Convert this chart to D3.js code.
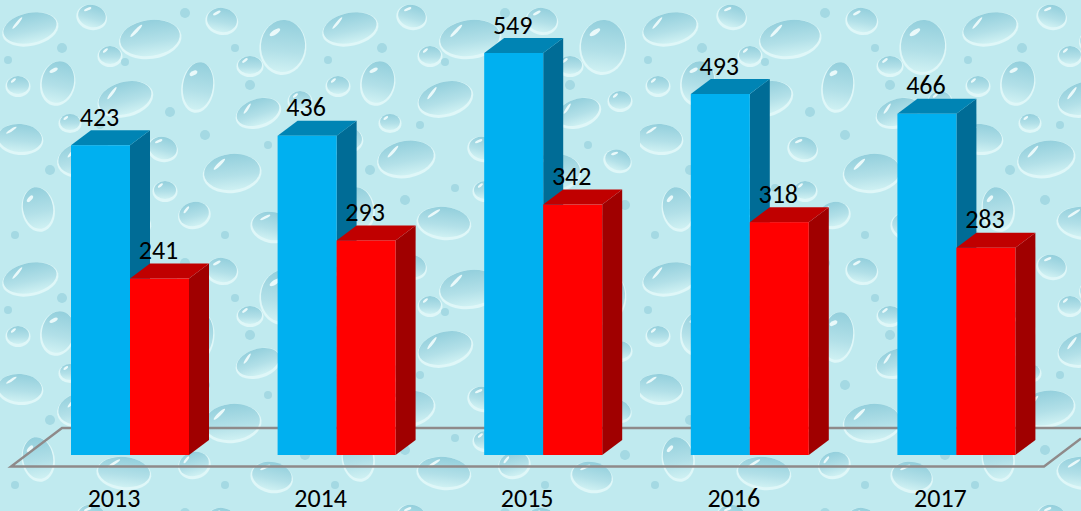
<!DOCTYPE html>
<html><head><meta charset="utf-8">
<style>html,body{margin:0;padding:0;background:#bfe9ee;overflow:hidden}svg{display:block}text{font-family:Carlito,"Liberation Sans","Open Sans",sans-serif}</style>
<script src="https://cdn.jsdelivr.net/npm/d3@7/dist/d3.min.js"></script></head><body><svg id="c" width="1081" height="511"></svg>
<script>
const years=["2013","2014","2015","2016","2017"];
const blueValues=[423,436,549,493,466];
const redValues=[241,293,342,318,283];
const W=1081,H=511;
const svg=d3.select("#c");
const defs=svg.append("defs");
// background tile of water drops: [cx, cy, rx, ry, rotation]
const drops=[[30,28,27,15,-12],[92,16,14,11,15],[150,38,30,18,-8],[222,20,15,12,10],[283,46,22,26,5],[58,82,16,21,12],[125,98,27,16,-15],[198,86,15,24,8],[258,112,22,13,-18],[20,138,22,14,5],[86,158,28,17,-10],[163,148,14,11,15],[232,172,28,18,-6],[298,160,13,10,20],[38,208,15,21,-10],[124,222,26,15,6],[194,214,15,12,-15],[272,226,20,14,12],[70,122,10,8,0],[165,190,11,9,0],[300,100,11,9,0],[110,55,11,9,0],[250,65,12,9,0],[18,85,11,9,0]];
const tiny=[[62,48,5],[125,62,4],[185,13,5],[250,85,5],[100,125,4],[170,112,5],[50,170,5],[135,188,4],[205,135,5],[268,145,4],[85,200,5],[225,235,4],[15,235,4],[305,205,5],[235,48,4],[8,60,4]];
const grad=defs.append("linearGradient").attr("id","drop").attr("x1",0.5).attr("y1",0).attr("x2",0.5).attr("y2",1);
grad.append("stop").attr("offset","0%").attr("stop-color","#93cfdc");
grad.append("stop").attr("offset","60%").attr("stop-color","#b2e0e8");
grad.append("stop").attr("offset","100%").attr("stop-color","#cff1f3");
const blur=defs.append("filter").attr("id","soft").attr("x","-20%").attr("y","-20%").attr("width","140%").attr("height","140%");
blur.append("feGaussianBlur").attr("stdDeviation",0.7);
const pat=defs.append("pattern").attr("id","tex").attr("patternUnits","userSpaceOnUse").attr("width",320).attr("height",250);
pat.append("rect").attr("width",320).attr("height",250).attr("fill","#c0eaef");
const g0=pat.append("g").attr("filter","url(#soft)");
const dg=g0.selectAll("g.d").data(drops).join("g").attr("transform",d=>`translate(${d[0]},${d[1]}) rotate(${d[4]})`);
dg.append("ellipse").attr("rx",d=>d[2]+1.5).attr("ry",d=>d[3]+1.5).attr("cy",1.5).attr("fill","#dff7f8");
dg.append("ellipse").attr("rx",d=>d[2]).attr("ry",d=>d[3]).attr("fill","url(#drop)");
dg.append("ellipse").attr("rx",d=>d[2]*.28).attr("ry",d=>Math.max(1.3,d[3]*.09))
  .attr("transform",d=>`translate(${-d[2]*.42},${-d[3]*.5}) rotate(-38)`).attr("fill","#f2fdfd").attr("opacity",.9);
const tg=g0.selectAll("g.t").data(tiny).join("g").attr("transform",d=>`translate(${d[0]},${d[1]})`);
tg.append("circle").attr("r",d=>d[2]).attr("fill","#a4d9e3");
svg.append("rect").attr("width",W).attr("height",H).attr("fill","url(#tex)");
// scales
const y=d3.scaleLinear().domain([0,549]).range([455,53]);
const x0=d3.scalePoint().domain(years).range([130,956.4]);
const barW=59,dx=20,dy=15;
// floor
const floorFront=466.5,floorBack=428;
const floor=d3.line();
svg.append("path").attr("d",floor([[1081,floorBack],[62,floorBack],[11,floorFront],[1044,floorFront],[1081,floorFront-(37*38.5/51)]]))
 .attr("fill","none").attr("stroke","#8f8a8a").attr("stroke-width",2.4).attr("stroke-linejoin","miter");
// bars
function bar(g,xl,v,front,top,side){
  const t=y(v),b=y(0),r=xl+barW;
  g.append("path").attr("d",floor([[r,b],[r+dx,b-dy],[r+dx,t-dy],[r,t]])+"Z").attr("fill",side);
  g.append("path").attr("d",floor([[xl,t],[xl+dx,t-dy],[r+dx,t-dy],[r,t]])+"Z").attr("fill",top);
  g.append("rect").attr("x",xl).attr("y",t).attr("width",barW).attr("height",b-t).attr("fill",front);
}
const label=(cx,v)=>svg.append("text").attr("x",cx).attr("y",y(v)-19.5).attr("text-anchor","middle").attr("font-size",26).attr("fill","#000").text(v);
years.forEach((yr,i)=>{
  const c=x0(yr),g=svg.append("g");
  bar(g,c-barW,blueValues[i],"#00b0f0","#0084b4","#006c96");
  bar(g,c,redValues[i],"#ff0000","#c00000","#a00000");
  label(c-barW+28.5,blueValues[i]);
  label(c+28.5,redValues[i]);
  svg.append("text").attr("x",c-16).attr("y",507).attr("text-anchor","middle").attr("font-size",26).attr("fill","#000").text(yr);
});
</script></body></html>
